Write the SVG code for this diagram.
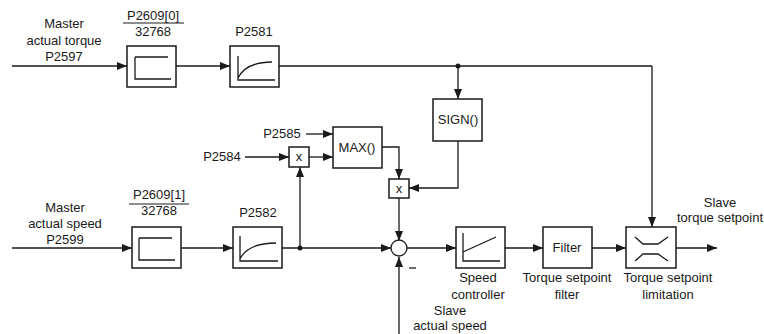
<svg xmlns="http://www.w3.org/2000/svg" width="764" height="334" viewBox="0 0 764 334">
<defs>
<marker id="ah" markerWidth="10" markerHeight="8" refX="10" refY="4" orient="auto" markerUnits="userSpaceOnUse">
<path d="M0,0 L10,4 L0,8 Z" fill="#1a1a1a"/>
</marker>
</defs>
<style>
.t{font-family:"Liberation Sans",Arial,sans-serif;font-size:13px;fill:#1a1a1a;text-anchor:middle}
.b{fill:#fff;stroke:#1a1a1a;stroke-width:1.5}
.i{fill:none;stroke:#1a1a1a;stroke-width:1.3}
.c{fill:none;stroke:#1a1a1a;stroke-width:1.3}
.a{marker-end:url(#ah)}
</style>
<rect width="764" height="334" fill="#fff"/>

<g id="labels">
<text class="t" x="64" y="28">Master</text>
<text class="t" x="64" y="45">actual torque</text>
<text class="t" x="64" y="61">P2597</text>
<text class="t" x="65" y="212">Master</text>
<text class="t" x="65" y="228">actual speed</text>
<text class="t" x="65" y="244">P2599</text>
<text class="t" x="720" y="207">Slave</text>
<text class="t" x="720" y="222">torque setpoint</text>
<text class="t" x="450" y="315">Slave</text>
<text class="t" x="450" y="330">actual speed</text>
<text class="t" x="282" y="138">P2585</text>
<text class="t" x="222" y="161">P2584</text>
<line x1="409" y1="268" x2="416" y2="268" stroke="#1a1a1a" stroke-width="1.3"/>
</g>

<g id="connectors">
<path class="c a" d="M12,66 H127"/>
<path class="c a" d="M176,66 H230"/>
<path class="c" d="M279,66 H652"/>
<path class="c a" d="M652,66 V227"/>
<path class="c a" d="M458,66 V99"/>
<circle cx="458" cy="66" r="2.5" fill="#1a1a1a"/>
<path class="c a" d="M458,141 V188 H409"/>
<path class="c a" d="M12,248 H132"/>
<path class="c a" d="M181,248 H233"/>
<path class="c a" d="M282,248 H391"/>
<circle cx="300" cy="248" r="2.5" fill="#1a1a1a"/>
<path class="c a" d="M300,248 V167"/>
<path class="c a" d="M245,157 H289"/>
<path class="c a" d="M306,134 H333"/>
<path class="c a" d="M309,157 H333"/>
<path class="c a" d="M382,147 H399 V179"/>
<path class="c a" d="M399,198 V241"/>
<path class="c a" d="M399,334 V257"/>
<path class="c a" d="M407,248 H456"/>
<path class="c a" d="M505,248 H543"/>
<path class="c a" d="M592,248 H626"/>
<path class="c a" d="M676,248 H717"/>
</g>

<g id="scale-torque">
<text class="t" x="153" y="20">P2609[0]</text>
<line x1="123" y1="23" x2="184" y2="23" stroke="#1a1a1a" stroke-width="1.2"/>
<text class="t" x="153" y="36">32768</text>
<rect class="b" x="127" y="46" width="49" height="41"/>
<path class="i" d="M135,57 H168 M135,57 V79 H171"/>
</g>

<g id="p2581">
<text class="t" x="254" y="36">P2581</text>
<rect class="b" x="230" y="46" width="49" height="41"/>
<path class="i" d="M238,56 V80 H275 M238,78 Q246,62 272,62"/>
</g>

<g id="sign">
<rect class="b" x="433" y="99" width="49" height="42"/>
<text class="t" x="458" y="124">SIGN()</text>
</g>

<g id="max">
<rect class="b" x="333" y="127" width="49" height="41"/>
<text class="t" x="357" y="152">MAX()</text>
</g>

<g id="mult1">
<rect class="b" x="289" y="147" width="20" height="20"/>
<text class="t" x="299" y="161">x</text>
</g>

<g id="mult2">
<rect class="b" x="389" y="179" width="20" height="19"/>
<text class="t" x="399" y="193">x</text>
</g>

<g id="scale-speed">
<text class="t" x="159" y="199">P2609[1]</text>
<line x1="129" y1="204" x2="189" y2="204" stroke="#1a1a1a" stroke-width="1.2"/>
<text class="t" x="159" y="215">32768</text>
<rect class="b" x="132" y="227" width="49" height="41"/>
<path class="i" d="M139,238 H172 M139,238 V260 H175"/>
</g>

<g id="p2582">
<text class="t" x="258" y="217">P2582</text>
<rect class="b" x="233" y="227" width="49" height="41"/>
<path class="i" d="M240,236 V261 H278 M240,259 Q248,243 276,243"/>
</g>

<g id="sum">
<circle cx="399" cy="248" r="8" fill="#fff" stroke="#1a1a1a" stroke-width="1.3"/>
</g>

<g id="speed-controller">
<rect class="b" x="456" y="227" width="49" height="41"/>
<path class="i" d="M463,233 V261 H500 M463,252 L496,237"/>
<text class="t" x="478" y="282">Speed</text>
<text class="t" x="478" y="299">controller</text>
</g>

<g id="filter">
<rect class="b" x="543" y="227" width="49" height="41"/>
<text class="t" x="567" y="252">Filter</text>
<text class="t" x="567" y="282">Torque setpoint</text>
<text class="t" x="567" y="299">filter</text>
</g>

<g id="limit">
<rect class="b" x="626" y="227" width="50" height="41"/>
<path class="i" d="M635,237 L643,244 H658 L668,237 M635,261 L643,254 H658 L668,261"/>
<text class="t" x="668" y="282">Torque setpoint</text>
<text class="t" x="668" y="299">limitation</text>
</g>
</svg>
